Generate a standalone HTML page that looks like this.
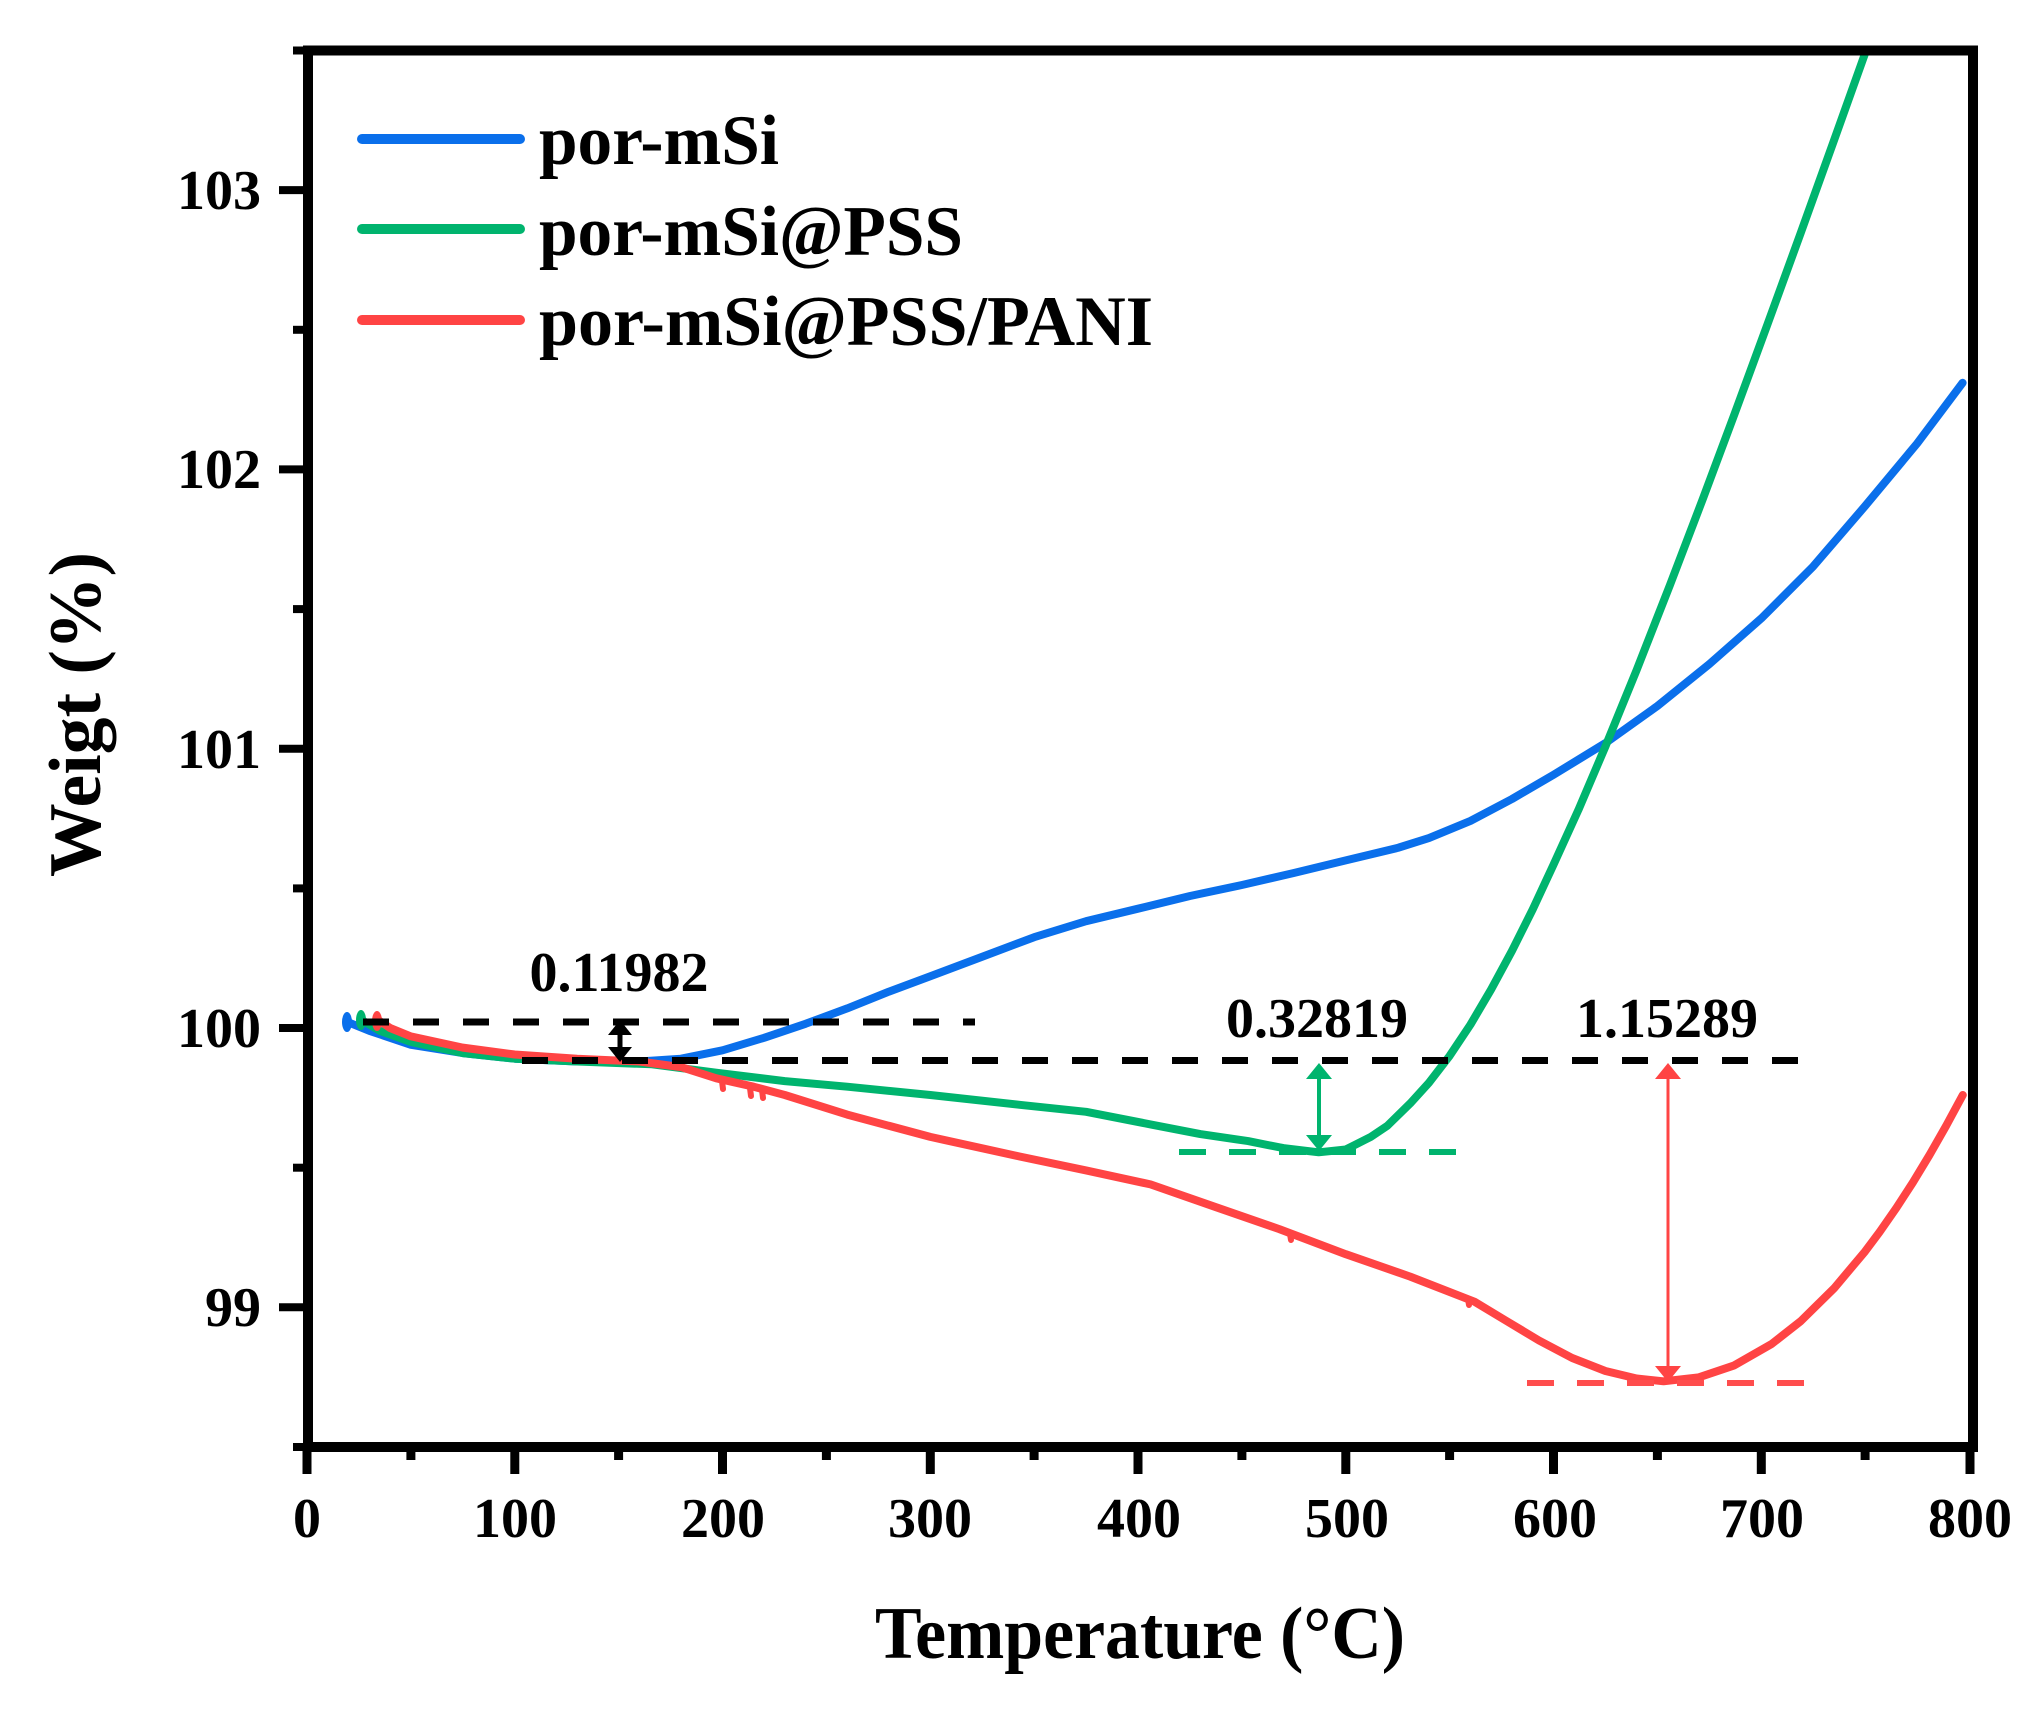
<!DOCTYPE html>
<html>
<head>
<meta charset="utf-8">
<style>
  html, body { margin: 0; padding: 0; background: #ffffff; }
  svg { display: block; }
</style>
</head>
<body>
<svg width="2040" height="1710" viewBox="0 0 2040 1710" xmlns="http://www.w3.org/2000/svg"
     font-family="'Liberation Serif', 'Times New Roman', serif" font-weight="bold">
  <rect x="0" y="0" width="2040" height="1710" fill="#ffffff"/>
  <defs>
    <clipPath id="plot">
      <rect x="308" y="50" width="1665" height="1397"/>
    </clipPath>
  </defs>

  <!-- curves -->
  <g clip-path="url(#plot)" fill="none" stroke-linejoin="round" stroke-linecap="round" stroke-width="8">
    <!-- blue: por-mSi -->
    <polyline stroke="#0A6FEB" points="
      348.6,1022.4 369.3,1030.8 410.9,1044.8 462.8,1053.1 514.8,1058.7 577.1,1061.5 639.4,1061.5
      681.0,1058.7 722.5,1050.3 764.1,1037.8 805.6,1023.8 847.2,1008.4 888.7,991.7 930.3,976.3
      982.2,956.8 1034.1,937.2 1086.1,921.2 1138.0,908.7 1190.0,896.0 1241.9,885.0 1293.8,873.0
      1345.8,860.4 1397.7,847.9 1428.9,838.1 1470.4,820.9 1512.0,799.0 1553.5,774.8 1605.4,743.1
      1657.4,706.0 1709.3,664.1 1761.3,618.4 1813.2,566.4 1865.1,506.0 1917.1,443.5 1962.6,382.8"/>
    <ellipse cx="347" cy="1022" rx="5" ry="10" fill="#0A6FEB" stroke="none"/>

    <!-- green: por-mSi@PSS -->
    <polyline stroke="#00B46E" points="
      361.0,1019.6 379.7,1030.8 410.9,1042.0 462.8,1053.1 514.8,1058.7 577.1,1061.5 651.9,1064.3
      716.3,1072.7 784.8,1081.1 847.2,1086.7 930.3,1095.0 1019.6,1104.8 1086.1,1111.8 1150.5,1124.4
      1200.3,1134.1 1248.1,1141.1 1283.4,1148.1 1318.7,1152.3 1345.8,1149.5 1370.7,1136.9
      1387.3,1125.8 1410.2,1103.4 1428.9,1082.8 1449.6,1055.9 1470.4,1024.7 1491.2,989.3
      1512.0,950.8 1532.7,909.4 1553.5,864.7 1578.4,809.9 1605.4,746.5 1636.6,670.1 1669.8,585.4
      1703.1,498.2 1734.2,414.9 1767.5,324.3 1800.7,233.0 1834.0,140.4 1865.1,53.3 1868,45"/>
    <ellipse cx="361" cy="1020" rx="5" ry="10" fill="#00B46E" stroke="none"/>

    <!-- red: por-mSi@PSS/PANI -->
    <polyline stroke="#FF4444" points="
      377.6,1019.6 390.1,1028.0 410.9,1036.4 462.8,1047.6 514.8,1054.5 577.1,1058.7 639.4,1061.5
      681.0,1067.1 716.3,1078.3 753.7,1086.7 784.8,1095.0 847.2,1114.6 930.3,1136.9 1019.6,1156.5
      1086.1,1170.4 1150.5,1184.4 1214.9,1206.8 1279.3,1229.1 1345.8,1254.2 1410.2,1276.6
      1474.5,1301.7 1505.7,1320.5 1539.0,1340.5 1572.2,1358.0 1605.4,1371.0 1636.6,1378.5
      1663.6,1381.3 1698.9,1377.3 1734.2,1365.4 1771.6,1344.0 1800.7,1321.2 1834.0,1288.4
      1865.1,1251.4 1879.6,1232.0 1896.3,1208.0 1912.9,1182.4 1929.5,1155.0 1946.1,1125.9 1962.8,1095.0"/>
    <!-- small noise jags on red -->
    <g stroke="#FF4444" stroke-width="6">
      <line x1="722" y1="1081" x2="723" y2="1089"/>
      <line x1="750" y1="1088" x2="751" y2="1096"/>
      <line x1="762" y1="1090" x2="763" y2="1098"/>
      <line x1="1290" y1="1234" x2="1291" y2="1240"/>
      <line x1="1468" y1="1299" x2="1469" y2="1305"/>
    </g>
    <ellipse cx="377" cy="1021" rx="5" ry="10" fill="#FF4444" stroke="none"/>
  </g>

  <!-- dashed reference lines -->
  <g fill="none">
    <line x1="363" y1="1022" x2="975" y2="1022" stroke="#000" stroke-width="7" stroke-dasharray="26 24"/>
    <line x1="522" y1="1060.5" x2="1811" y2="1060.5" stroke="#000" stroke-width="7" stroke-dasharray="26 24"/>
    <line x1="1179" y1="1152" x2="1458" y2="1152" stroke="#00B46E" stroke-width="6" stroke-dasharray="27 23"/>
    <line x1="1527" y1="1383" x2="1806" y2="1383" stroke="#FF4D4D" stroke-width="6" stroke-dasharray="27 23"/>
  </g>

  <!-- arrows -->
  <g>
    <!-- black -->
    <line x1="620" y1="1032" x2="620" y2="1050" stroke="#000" stroke-width="5"/>
    <polygon points="620,1020 608,1035 632,1035" fill="#000"/>
    <polygon points="620,1062 608,1047 632,1047" fill="#000"/>
    <!-- green -->
    <line x1="1319" y1="1075" x2="1319" y2="1138" stroke="#00B46E" stroke-width="4"/>
    <polygon points="1319,1063 1306,1079 1332,1079" fill="#00B46E"/>
    <polygon points="1319,1151 1306,1135 1332,1135" fill="#00B46E"/>
    <!-- red -->
    <line x1="1668" y1="1075" x2="1668" y2="1370" stroke="#FF4444" stroke-width="3"/>
    <polygon points="1668,1063 1655,1079 1681,1079" fill="#FF4444"/>
    <polygon points="1668,1382 1655,1366 1681,1366" fill="#FF4444"/>
  </g>

  <!-- annotation numbers -->
  <g font-size="56" fill="#000" text-anchor="middle">
    <text x="619" y="991">0.11982</text>
    <text x="1317" y="1037">0.32819</text>
    <text x="1667" y="1037">1.15289</text>
  </g>

  <!-- axes frame -->
  <rect x="308" y="50.5" width="1665" height="1396.5" fill="none" stroke="#000" stroke-width="10"/>

  <!-- y ticks -->
  <g stroke="#000" stroke-width="8">
    <line x1="279" y1="1307.3" x2="308" y2="1307.3"/>
    <line x1="279" y1="1028" x2="308" y2="1028"/>
    <line x1="279" y1="748.7" x2="308" y2="748.7"/>
    <line x1="279" y1="469.4" x2="308" y2="469.4"/>
    <line x1="279" y1="190.1" x2="308" y2="190.1"/>
    <line x1="293" y1="1447" x2="308" y2="1447"/>
    <line x1="293" y1="1167.7" x2="308" y2="1167.7"/>
    <line x1="293" y1="888.4" x2="308" y2="888.4"/>
    <line x1="293" y1="609.1" x2="308" y2="609.1"/>
    <line x1="293" y1="329.8" x2="308" y2="329.8"/>
    <line x1="293" y1="50.5" x2="308" y2="50.5"/>
  </g>

  <!-- x ticks -->
  <g stroke="#000" stroke-width="9">
    <line x1="307" y1="1447" x2="307" y2="1474"/>
    <line x1="514.8" y1="1447" x2="514.8" y2="1474"/>
    <line x1="722.5" y1="1447" x2="722.5" y2="1474"/>
    <line x1="930.3" y1="1447" x2="930.3" y2="1474"/>
    <line x1="1138" y1="1447" x2="1138" y2="1474"/>
    <line x1="1345.8" y1="1447" x2="1345.8" y2="1474"/>
    <line x1="1553.5" y1="1447" x2="1553.5" y2="1474"/>
    <line x1="1761.3" y1="1447" x2="1761.3" y2="1474"/>
    <line x1="1970" y1="1447" x2="1970" y2="1474"/>
    <line x1="410.9" y1="1447" x2="410.9" y2="1460"/>
    <line x1="618.6" y1="1447" x2="618.6" y2="1460"/>
    <line x1="826.4" y1="1447" x2="826.4" y2="1460"/>
    <line x1="1034.1" y1="1447" x2="1034.1" y2="1460"/>
    <line x1="1241.9" y1="1447" x2="1241.9" y2="1460"/>
    <line x1="1449.6" y1="1447" x2="1449.6" y2="1460"/>
    <line x1="1657.4" y1="1447" x2="1657.4" y2="1460"/>
    <line x1="1865.1" y1="1447" x2="1865.1" y2="1460"/>
  </g>

  <!-- y tick labels -->
  <g font-size="56" fill="#000" text-anchor="end">
    <text x="261" y="1326">99</text>
    <text x="261" y="1047">100</text>
    <text x="261" y="768">101</text>
    <text x="261" y="488">102</text>
    <text x="261" y="209">103</text>
  </g>

  <!-- x tick labels -->
  <g font-size="56" fill="#000" text-anchor="middle">
    <text x="307" y="1537">0</text>
    <text x="515" y="1537">100</text>
    <text x="723" y="1537">200</text>
    <text x="930" y="1537">300</text>
    <text x="1139" y="1537">400</text>
    <text x="1347" y="1537">500</text>
    <text x="1555" y="1537">600</text>
    <text x="1762" y="1537">700</text>
    <text x="1970" y="1537">800</text>
  </g>

  <!-- axis titles -->
  <text x="1140" y="1658" font-size="74" fill="#000" text-anchor="middle" textLength="530" lengthAdjust="spacingAndGlyphs">Temperature (°C)</text>
  <text transform="translate(100,714.5) rotate(-90)" font-size="74" fill="#000" text-anchor="middle" textLength="325" lengthAdjust="spacingAndGlyphs">Weigt (%)</text>

  <!-- legend -->
  <g stroke-width="10" stroke-linecap="round">
    <line x1="362" y1="139" x2="520" y2="139" stroke="#0A6FEB"/>
    <line x1="362" y1="229" x2="520" y2="229" stroke="#00B46E"/>
    <line x1="362" y1="320" x2="520" y2="320" stroke="#FF4444"/>
  </g>
  <g font-size="71" fill="#000">
    <text x="539" y="164" textLength="240" lengthAdjust="spacingAndGlyphs">por-mSi</text>
    <text x="539" y="255" textLength="424" lengthAdjust="spacingAndGlyphs">por-mSi@PSS</text>
    <text x="539" y="345" textLength="614" lengthAdjust="spacingAndGlyphs">por-mSi@PSS/PANI</text>
  </g>
</svg>
</body>
</html>
